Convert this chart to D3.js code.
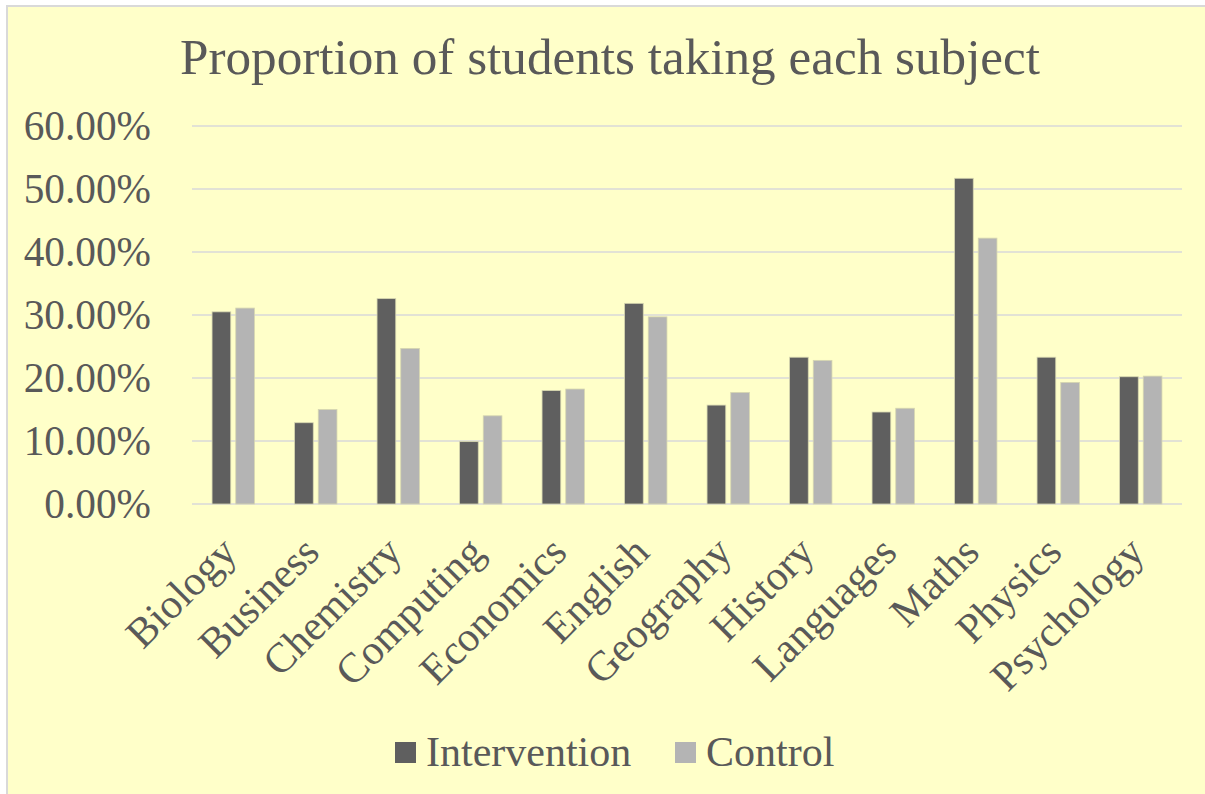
<!DOCTYPE html>
<html>
<head>
<meta charset="utf-8">
<script src="https://cdn.jsdelivr.net/npm/d3@7"></script>
<style>
  html, body { margin: 0; padding: 0; background: #ffffff; }
  svg { display: block; }
  text { font-family: "Liberation Serif", "Times New Roman", serif; fill: #595959; }
</style>
</head>
<body>
<svg id="chart" width="1205" height="794"></svg>
<script>
const categories = ["Biology", "Business", "Chemistry", "Computing", "Economics", "English",
  "Geography", "History", "Languages", "Maths", "Physics", "Psychology"];
const seriesNames = ["Intervention", "Control"];
const intervention = [30.5, 12.9, 32.6, 9.9, 18.0, 31.85, 15.7, 23.3, 14.6, 51.7, 23.3, 20.2];
const control = [31.1, 15.0, 24.7, 14.0, 18.25, 29.7, 17.7, 22.8, 15.2, 42.2, 19.3, 20.3];
const yTicks = [0, 10, 20, 30, 40, 50, 60];
const title = "Proportion of students taking each subject";
const colors = ["#5f5f5f", "#b4b4b4"];

const svg = d3.select("#chart");
const W = 1205, H = 794;

// background + border
svg.append("rect").attr("x", 0).attr("y", 0).attr("width", W).attr("height", H).attr("fill", "#ffffff");
svg.append("rect").attr("x", 7).attr("y", 6).attr("width", W + 10).attr("height", H + 10)
  .attr("fill", "#ffffc9").attr("stroke", "#d9d9d9").attr("stroke-width", 2);

const plot = { left: 192, right: 1182, top: 126, bottom: 504 };

const x0 = d3.scaleBand().domain(categories).range([plot.left, plot.right]).paddingInner(0).paddingOuter(0);
const x1 = d3.scaleBand().domain(seriesNames).range([0, x0.bandwidth()]).paddingInner(0.211).paddingOuter(0.846);
const y = d3.scaleLinear().domain([0, 60]).range([plot.bottom, plot.top]);

// gridlines
svg.append("g").selectAll("line").data(yTicks).join("line")
  .attr("x1", plot.left).attr("x2", plot.right)
  .attr("y1", d => y(d)).attr("y2", d => y(d))
  .attr("stroke", "#d9d9d9").attr("stroke-width", 1.3);

// y axis labels
svg.append("g").selectAll("text").data(yTicks).join("text")
  .attr("x", 151).attr("y", d => y(d)).attr("dy", "0.33em")
  .attr("text-anchor", "end").attr("font-size", 41.3)
  .text(d => d.toFixed(2) + "%");

// bars
const data = categories.map((c, i) => ({ cat: c, vals: [intervention[i], control[i]] }));
const groups = svg.append("g").selectAll("g").data(data).join("g")
  .attr("transform", d => `translate(${x0(d.cat)},0)`);
groups.selectAll("rect").data(d => d.vals.map((v, j) => ({ s: seriesNames[j], v, j }))).join("rect")
  .attr("x", d => x1(d.s)).attr("width", x1.bandwidth())
  .attr("y", d => y(d.v)).attr("height", d => y(0) - y(d.v))
  .attr("fill", d => colors[d.j])
  .attr("stroke", "#d6d6b0").attr("stroke-width", 0.8);

// x labels
svg.append("g").selectAll("text").data(categories).join("text")
  .attr("text-anchor", "end").attr("font-size", 42)
  .attr("transform", d => `translate(${x0(d) + x0.bandwidth() / 2 + 5.5},554.5) rotate(-45)`)
  .text(d => d);

// title
svg.append("text").attr("x", 610).attr("y", 74).attr("text-anchor", "middle")
  .attr("font-size", 51.2).text(title);

// legend
const legendX = [395, 675];
const leg = svg.append("g").selectAll("g").data(seriesNames).join("g")
  .attr("transform", (d, i) => `translate(${legendX[i]},742)`);
leg.append("rect").attr("width", 21).attr("height", 21).attr("fill", (d, i) => colors[i]);
leg.append("text").attr("x", 31).attr("y", 24).attr("font-size", 42).text(d => d);
</script>
</body>
</html>
